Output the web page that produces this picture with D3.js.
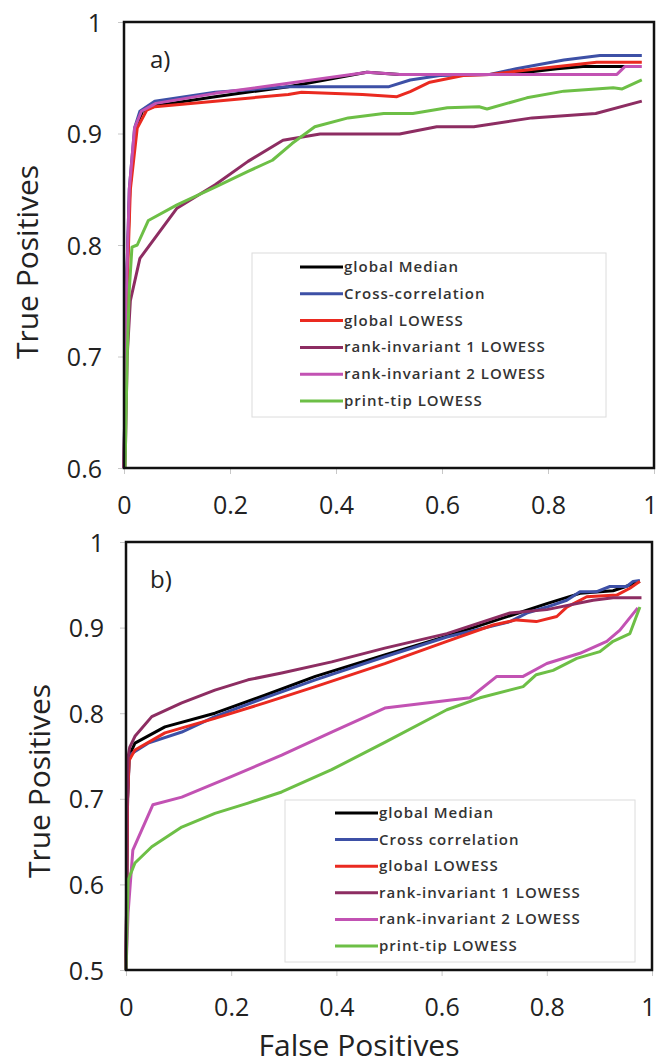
<!DOCTYPE html>
<html>
<head>
<meta charset="utf-8">
<style>
  html, body { margin: 0; padding: 0; background: #fff; }
  svg { display: block; }
  .tick line { stroke: #c8c8c8; stroke-width: 1px; }
  .tick text { font-family: "Open Sans", sans-serif; font-size: 25px; fill: #222; }
  .title { font-family: "Open Sans", sans-serif; font-size: 30px; fill: #222; }
  .panel-label { font-family: "Open Sans", sans-serif; font-size: 24px; fill: #222; }
  .legend text { font-family: "Open Sans", sans-serif; font-size: 15px; font-weight: 600; fill: #333; letter-spacing: 1px; }
</style>
</head>
<body>
<svg width="659" height="1064"></svg>
<script src="https://d3js.org/d3.v7.min.js"></script>
<script>

// ---- data: panel a) ----
var aMedian = [[0,0.6],[0.004,0.75],[0.011,0.85],[0.022,0.905],[0.035,0.92],[0.06,0.925],[0.172,0.933],[0.31,0.942],[0.458,0.955],[0.52,0.953],[0.7,0.953],[0.76,0.955],[0.817,0.958],[0.866,0.96],[0.95,0.96]];
var aCross = [[0,0.6],[0.004,0.75],[0.01,0.85],[0.02,0.905],[0.03,0.92],[0.058,0.929],[0.172,0.937],[0.31,0.942],[0.5,0.942],[0.54,0.948],[0.596,0.952],[0.69,0.953],[0.74,0.958],[0.83,0.966],[0.898,0.97],[0.977,0.97]];
var aLowess = [[0,0.6],[0.005,0.75],[0.012,0.85],[0.025,0.905],[0.043,0.921],[0.058,0.924],[0.172,0.929],[0.31,0.935],[0.335,0.937],[0.45,0.935],[0.515,0.933],[0.54,0.9375],[0.577,0.946],[0.64,0.952],[0.69,0.953],[0.78,0.958],[0.892,0.964],[0.977,0.964]];
var aRank1 = [[0.002,0.6],[0.006,0.7],[0.012,0.75],[0.03,0.788],[0.1,0.833],[0.172,0.854],[0.234,0.875],[0.3,0.894],[0.37,0.8995],[0.52,0.8995],[0.59,0.906],[0.66,0.906],[0.77,0.914],[0.89,0.918],[0.977,0.929]];
var aRank2 = [[0,0.6],[0.004,0.75],[0.01,0.85],[0.02,0.905],[0.033,0.92],[0.06,0.927],[0.172,0.936],[0.31,0.945],[0.46,0.955],[0.52,0.953],[0.93,0.953],[0.945,0.96],[0.977,0.96]];
var aPrintTip = [[0.002,0.6],[0.006,0.7],[0.01,0.76],[0.015,0.798],[0.025,0.8],[0.046,0.822],[0.1,0.836],[0.172,0.852],[0.234,0.866],[0.28,0.876],[0.317,0.891],[0.36,0.906],[0.423,0.914],[0.49,0.918],[0.545,0.918],[0.61,0.923],[0.67,0.924],[0.685,0.922],[0.76,0.932],[0.83,0.938],[0.923,0.941],[0.94,0.94],[0.977,0.948]];

// ---- data: panel b) ----
var bMedian = [[0,0.5],[0.003,0.7],[0.006,0.75],[0.017,0.765],[0.074,0.784],[0.169,0.8],[0.264,0.821],[0.36,0.843],[0.492,0.868],[0.61,0.89],[0.736,0.915],[0.8,0.928],[0.863,0.94],[0.926,0.943],[0.95,0.948],[0.977,0.954]];
var bCross = [[0,0.5],[0.003,0.7],[0.006,0.745],[0.011,0.753],[0.042,0.765],[0.106,0.778],[0.169,0.796],[0.264,0.818],[0.36,0.839],[0.492,0.866],[0.61,0.889],[0.73,0.907],[0.762,0.917],[0.8,0.924],[0.838,0.932],[0.863,0.942],[0.895,0.942],[0.92,0.948],[0.952,0.948],[0.964,0.954],[0.977,0.955]];
var bLowess = [[0,0.5],[0.003,0.7],[0.006,0.745],[0.017,0.757],[0.074,0.777],[0.169,0.794],[0.264,0.812],[0.36,0.831],[0.492,0.858],[0.61,0.884],[0.698,0.903],[0.743,0.909],[0.78,0.907],[0.819,0.913],[0.838,0.924],[0.876,0.936],[0.933,0.938],[0.958,0.946],[0.977,0.954]];
var bRank1 = [[0,0.5],[0.002,0.68],[0.004,0.749],[0.007,0.76],[0.017,0.773],[0.049,0.796],[0.106,0.812],[0.169,0.827],[0.232,0.839],[0.296,0.847],[0.391,0.86],[0.492,0.876],[0.61,0.893],[0.73,0.917],[0.8,0.921],[0.888,0.932],[0.926,0.935],[0.98,0.935]];
var bRank2 = [[0,0.5],[0.004,0.567],[0.013,0.64],[0.051,0.693],[0.106,0.702],[0.169,0.718],[0.2,0.726],[0.296,0.751],[0.391,0.778],[0.492,0.806],[0.654,0.818],[0.705,0.843],[0.755,0.843],[0.8,0.858],[0.863,0.87],[0.914,0.884],[0.939,0.897],[0.973,0.923]];
var bPrintTip = [[0,0.5],[0.004,0.605],[0.017,0.625],[0.049,0.644],[0.106,0.667],[0.169,0.683],[0.232,0.695],[0.296,0.708],[0.391,0.734],[0.492,0.766],[0.61,0.804],[0.673,0.818],[0.755,0.831],[0.78,0.845],[0.812,0.85],[0.857,0.864],[0.901,0.872],[0.926,0.884],[0.958,0.893],[0.977,0.924]];

var colors = ["#000000", "#3d50a6", "#ea2a20", "#8d2d62", "#c252b3", "#6dbf46"];
var aNames = ["global Median", "Cross-correlation", "global LOWESS", "rank-invariant 1 LOWESS", "rank-invariant 2 LOWESS", "print-tip LOWESS"];
var bNames = ["global Median", "Cross correlation", "global LOWESS", "rank-invariant 1 LOWESS", "rank-invariant 2 LOWESS", "print-tip LOWESS"];
var xTicks = [0, 0.2, 0.4, 0.6, 0.8, 1];
var aYTicks = [0.6, 0.7, 0.8, 0.9, 1];
var bYTicks = [0.5, 0.6, 0.7, 0.8, 0.9, 1];

var svg = d3.select("svg");
var fmt = function(d) { return String(+d.toFixed(1)); };

function drawPanel(cfg) {
  var x = d3.scaleLinear().domain([0, 1]).range([cfg.left, cfg.right]);
  var y = d3.scaleLinear().domain(cfg.yDomain).range([cfg.bottom, cfg.top]);
  var g = svg.append("g");

  // axes (ticks + labels only)
  var ya = g.append("g").attr("transform", "translate(" + cfg.left + ",0)")
      .call(d3.axisLeft(y).tickValues(cfg.yTicks).tickSize(6).tickFormat(fmt));
  ya.select(".domain").remove();
  ya.selectAll("text").attr("x", -22).attr("dy", "0.36em");

  var xa = g.append("g").attr("transform", "translate(0," + cfg.bottom + ")")
      .call(d3.axisBottom(x).tickValues(xTicks).tickSize(6).tickFormat(fmt));
  xa.select(".domain").remove();
  xa.selectAll("text").attr("y", 46).attr("dy", 0)
    .attr("x", function(d) { return d === 1 ? -4 : 0; });

  var line = d3.line().x(function(d) { return x(d[0]); }).y(function(d) { return y(d[1]); });

  // curves in series order, later ones on top
  cfg.series.forEach(function(s, i) {
    g.append("path")
      .datum(s)
      .attr("fill", "none")
      .attr("stroke", colors[i])
      .attr("stroke-width", 3)
      .attr("stroke-linejoin", "round")
      .attr("d", line);
  });

  // frame
  g.append("rect")
    .attr("x", cfg.left).attr("y", cfg.top)
    .attr("width", cfg.right - cfg.left).attr("height", cfg.bottom - cfg.top)
    .attr("fill", "none").attr("stroke", "#111").attr("stroke-width", 2.5);

  g.append("text").attr("class", "panel-label")
    .attr("x", 150).attr("y", cfg.top + 46).text(cfg.label);

  g.append("text").attr("class", "title")
    .attr("transform", "translate(" + cfg.titleX + "," + cfg.titleY + ") rotate(-90)")
    .attr("text-anchor", "middle").text("True Positives");

  // legend
  var lg = g.append("g").attr("class", "legend");
  lg.append("rect")
    .attr("x", cfg.leg.x).attr("y", cfg.leg.y)
    .attr("width", cfg.leg.w).attr("height", cfg.leg.h)
    .attr("fill", "#fff").attr("stroke", "#dcdcdc").attr("stroke-width", 1);
  cfg.names.forEach(function(name, i) {
    var yy = cfg.leg.y0 + i * cfg.leg.dy;
    lg.append("line")
      .attr("x1", cfg.leg.lx1).attr("x2", cfg.leg.lx2)
      .attr("y1", yy).attr("y2", yy)
      .attr("stroke", colors[i]).attr("stroke-width", 3);
    lg.append("text")
      .attr("x", cfg.leg.lx2 + 1).attr("y", yy + 5)
      .text(name);
  });
}

drawPanel({
  left: 124, right: 654, top: 22, bottom: 468,
  yDomain: [0.6, 1], yTicks: aYTicks, label: "a)",
  titleX: 38, titleY: 262,
  series: [aMedian, aCross, aLowess, aRank1, aRank2, aPrintTip], names: aNames,
  leg: { x: 252, y: 253, w: 354, h: 164, lx1: 300, lx2: 343, y0: 267, dy: 26.8 }
});

drawPanel({
  left: 126, right: 652, top: 542, bottom: 970,
  yDomain: [0.5, 1], yTicks: bYTicks, label: "b)",
  titleX: 50, titleY: 781,
  series: [bMedian, bCross, bLowess, bRank1, bRank2, bPrintTip], names: bNames,
  leg: { x: 285, y: 800, w: 350, h: 162, lx1: 335, lx2: 378, y0: 813, dy: 26.6 }
});

svg.append("text").attr("class", "title")
  .attr("x", 359).attr("y", 1056)
  .attr("text-anchor", "middle").text("False Positives");

</script>
</body>
</html>
